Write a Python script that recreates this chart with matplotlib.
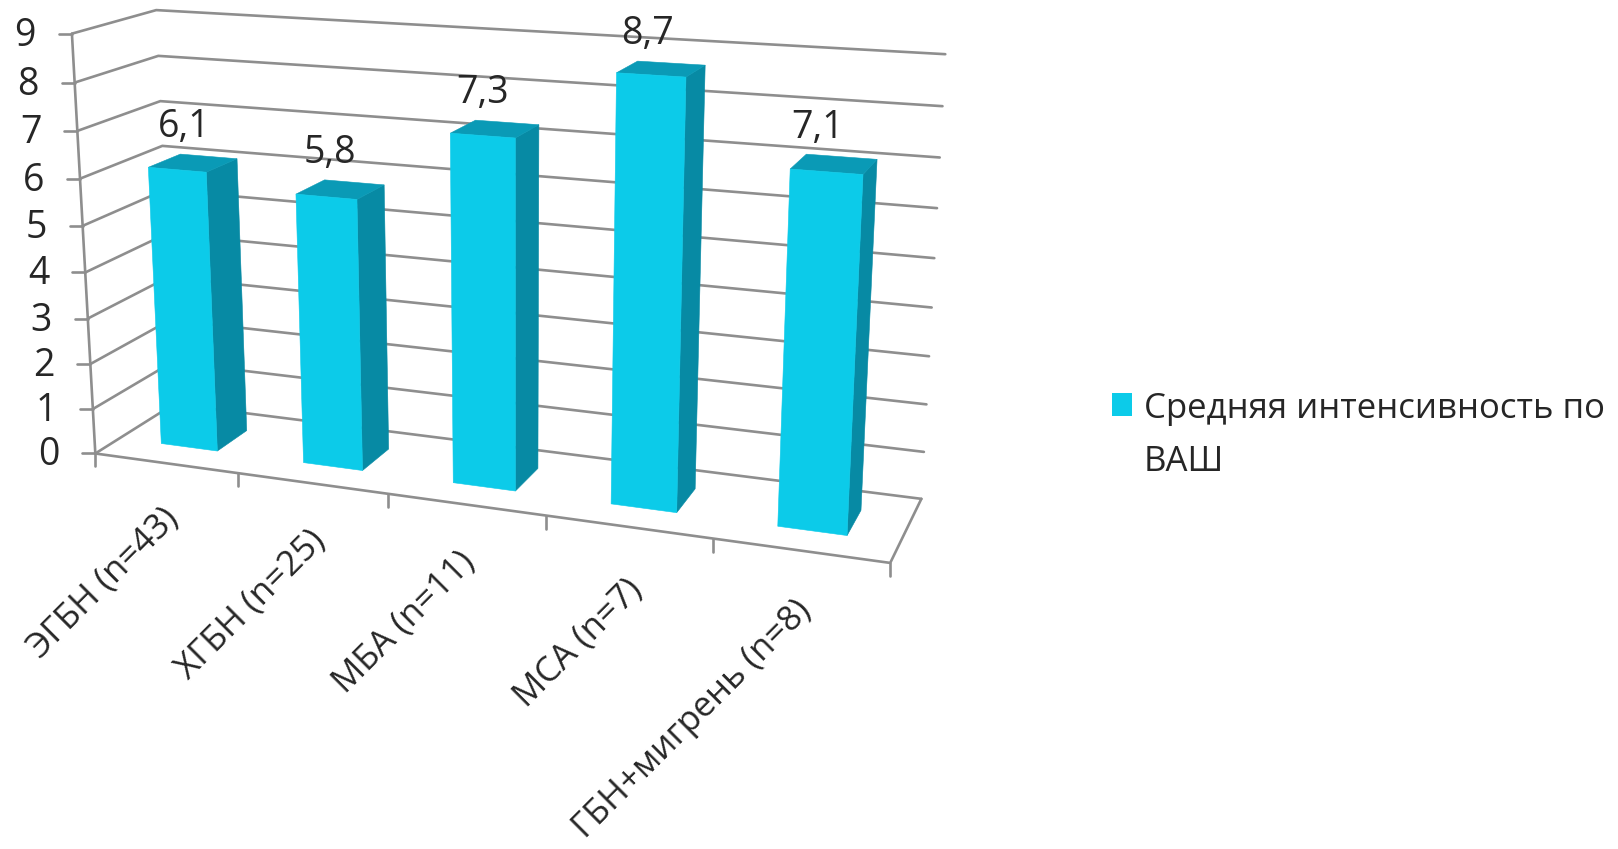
import numpy as np
import matplotlib
matplotlib.use("Agg")
import matplotlib.pyplot as plt
from matplotlib.patches import Polygon, Rectangle

plt.rcParams['font.family'] = ['Open Sans', 'DejaVu Sans']

# Chart content
categories = ["ЭГБН (n=43)", "ХГБН (n=25)", "МБА (n=11)", "МСА (n=7)", "ГБН+мигрень (n=8)"]
values = [6.1, 5.8, 7.3, 8.7, 7.1]
value_labels = ["6,1", "5,8", "7,3", "8,7", "7,1"]
value_ticks = [0, 1, 2, 3, 4, 5, 6, 7, 8, 9]
legend_lines = ["Средняя интенсивность по", "ВАШ"]

# Styling
GRID = "#8e8e8e"
TEXT = "#262626"
FRONT = "#0ccbe9"
SIDE = "#078aa4"
TOP = "#0a9ab6"

# Camera calibration: (category position, depth 0..1, value) -> canvas pixel
camera_world = np.array([
    (0, 0, 0), (0, 0, 9), (0, 1, 9), (5, 1, 9), (5, 1, 0), (5, 0, 0), (0, 1, 6), (0, 1, 7),
    (0, 0, 5), (5, 1, 5), (1, 0, 0), (2, 0, 0), (3, 0, 0), (4, 0, 0),
], dtype=float)
camera_pixel = np.array([
    (96.7, 452), (72.7, 33), (156.7, 10), (945, 54.7), (921.7, 497.5), (890, 562.6), (163, 146), (158.5, 102),
    (82, 225), (935, 258), (236.7, 473), (388, 497), (545.7, 516.6), (713, 537.7),
], dtype=float)


def fit_camera(world, pixel):
    rows, rhs = [], []
    for (x, d, v), (u, w) in zip(world, pixel / 1000):
        rows.append([x, d, v, 1, 0, 0, 0, 0, -u * x, -u * d, -u * v])
        rows.append([0, 0, 0, 0, x, d, v, 1, -w * x, -w * d, -w * v])
        rhs += [u, w]
    p = np.linalg.lstsq(np.array(rows), np.array(rhs), rcond=None)[0]
    return np.append(p, 1).reshape(3, 4)


CAMERA = fit_camera(camera_world, camera_pixel)


def project(x, d, v):
    h = CAMERA @ np.array([x, d, v, 1.0])
    return h[0] / h[2] * 1000, h[1] / h[2] * 1000


W, H = 1618, 849
fig = plt.figure(figsize=(W / 100, H / 100), dpi=100, facecolor="white")
ax = fig.add_axes([0, 0, 1, 1])
ax.set_xlim(0, W)
ax.set_ylim(H, 0)
ax.axis("off")

n = len(categories)


def line(points, lw=1.9):
    xs, ys = zip(*points)
    ax.plot(xs, ys, color=GRID, lw=lw, solid_capstyle="round", solid_joinstyle="miter", zorder=1)


# Walls, floor and ticks
for v in value_ticks:
    line([project(0, 0, v), project(0, 1, v), project(n, 1, v)])
    px, py = project(0, 0, v)
    line([(px - 13, py), (px, py)])
    ax.text(px - 36, py + 2, str(v), ha="right", va="center", fontsize=27, color=TEXT, zorder=5)
line([project(0, 0, 0), project(0, 0, value_ticks[-1])])
line([project(0, 0, 0), project(n, 0, 0), project(n, 1, 0)])
for i in range(n + 1):
    px, py = project(i, 0, 0)
    line([(px, py), (px, py + 13)])

# Bars
BAR_X = (0.30, 0.70)
BAR_D = (0.30, 0.70)
for i, val in enumerate(values):
    x0, x1 = i + BAR_X[0], i + BAR_X[1]
    d0, d1 = BAR_D
    faces = [
        ([(x1, d0, 0), (x1, d1, 0), (x1, d1, val), (x1, d0, val)], SIDE),
        ([(x0, d0, val), (x1, d0, val), (x1, d1, val), (x0, d1, val)], TOP),
        ([(x0, d0, 0), (x1, d0, 0), (x1, d0, val), (x0, d0, val)], FRONT),
    ]
    for corners, colour in faces:
        ax.add_patch(Polygon([project(*c) for c in corners], closed=True, facecolor=colour,
                             edgecolor=colour, lw=0.4, zorder=3))
    lx, ly = project((x0 + x1) / 2, d1, val)
    ax.text(lx - 24, ly - 29, value_labels[i], ha="center", va="center", fontsize=27, color=TEXT, zorder=6)

# Slanted category labels hang below the front edge, further down towards the right
label_drop = [50, 52, 52, 58, 55]
label_shift = [8, 8, 4, 8, 6]
for i, name in enumerate(categories):
    px, py = project(i + 0.5, 0, 0)
    ax.text(px + label_shift[i], py + label_drop[i], name, rotation=45, rotation_mode="anchor",
            ha="right", va="center", fontsize=25, color=TEXT, zorder=6)

# Legend
ax.add_patch(Rectangle((1112, 393), 20, 23, facecolor=FRONT, edgecolor="none"))
ax.text(1144, 418, legend_lines[0], ha="left", va="baseline", fontsize=25, color=TEXT)
ax.text(1144, 471, legend_lines[1], ha="left", va="baseline", fontsize=25, color=TEXT)

fig.savefig("out.png", dpi=100, facecolor="white")
